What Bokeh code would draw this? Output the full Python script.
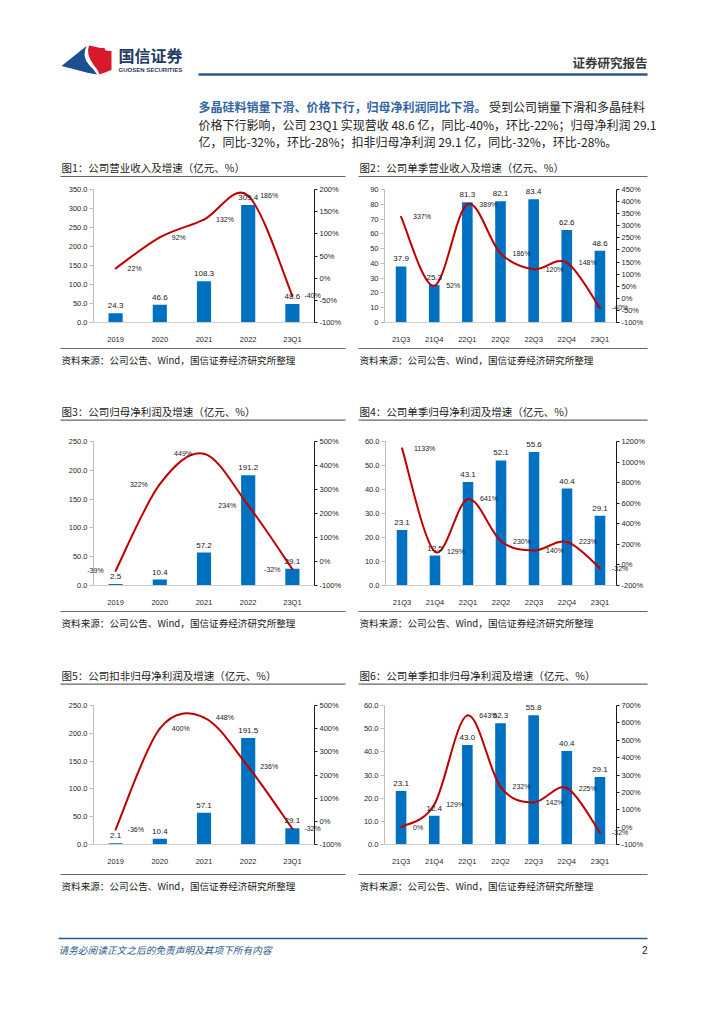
from bokeh.plotting import figure
from bokeh.models import Range1d, LinearAxis, FixedTicker, PrintfTickFormatter, ColumnDataSource, Spacer
from bokeh.layouts import column, row
from bokeh.core.properties import value
from bokeh.embed import file_html
from bokeh.resources import INLINE

CJK = "Noto Sans CJK SC"
NUM = "Liberation Sans"

# ---------------- data ----------------
years = ["2019", "2020", "2021", "2022", "23Q1"]
quarters = ["21Q3", "21Q4", "22Q1", "22Q2", "22Q3", "22Q4", "23Q1"]

rev_year = [24.3, 46.6, 108.3, 309.4, 48.6]
rev_year_yoy = [22, 92, 132, 186, -40]

rev_q = [37.9, 25.3, 81.3, 82.1, 83.4, 62.6, 48.6]
rev_q_yoy = [337, 52, 389, 186, 120, 148, -40]

np_year = [2.5, 10.4, 57.2, 191.2, 29.1]
np_year_yoy = [-39, 322, 449, 234, -32]

np_q = [23.1, 12.5, 43.1, 52.1, 55.6, 40.4, 29.1]
np_q_yoy = [1133, 129, 641, 230, 140, 223, -32]

dnp_year = [2.1, 10.4, 57.1, 191.5, 29.1]
dnp_year_yoy = [-36, 400, 448, 236, -32]

dnp_q = [23.1, 12.4, 43.0, 52.3, 55.8, 40.4, 29.1]
dnp_q_yoy = [0, 129, 643, 232, 142, 225, -32]

titles = [
    "图1：公司营业收入及增速（亿元、%）",
    "图2：公司单季营业收入及增速（亿元、%）",
    "图3：公司归母净利润及增速（亿元、%）",
    "图4：公司单季归母净利润及增速（亿元、%）",
    "图5：公司扣非归母净利润及增速（亿元、%）",
    "图6：公司单季扣非归母净利润及增速（亿元、%）",
]
source_text = "资料来源：公司公告、Wind，国信证券经济研究所整理"
para_blue = "多晶硅料销量下滑、价格下行，归母净利润同比下滑。"
para_l1 = "受到公司销量下滑和多晶硅料"
para_l2 = "价格下行影响，公司 23Q1 实现营收 48.6 亿，同比-40%，环比-22%；归母净利润 29.1"
para_l3 = "亿，同比-32%，环比-28%；扣非归母净利润 29.1 亿，同比-32%，环比-28%。"
footer_text = "请务必阅读正文之后的免责声明及其项下所有内容"

BAR = "#0070C0"
LINE = "#C00000"
STEEL = "#2b5a8c"
RULE = "#666666"


# ---------------- decoration strips (page pixel coords) ----------------
def decor(y0, h):
    p = figure(width=708, height=h, x_range=Range1d(8, 716), y_range=Range1d(y0 + h, y0),
               output_backend="svg", toolbar_location=None, min_border=0,
               x_axis_type=None, y_axis_type=None)
    p.outline_line_color = None
    p.background_fill_color = "white"
    p.border_fill_color = "white"
    return p


def txt(p, x, y, s, size, color="#1a1a1a", font=CJK, style="normal", align="left"):
    p.text(x=[x], y=[y], text=[s], text_font=value(font), text_font_size=value(f"{size}px"),
           text_color=color, text_font_style=value(style), text_align=value(align),
           text_baseline=value("middle"))


def hline(p, x0, x1, y, color=RULE, w=1.2):
    p.line(x=[x0, x1], y=[y, y], line_color=color, line_width=w)


def panel_titles(p, y_text, y_line, i0):
    txt(p, 69, y_text, titles[i0], 10.5)
    txt(p, 367, y_text, titles[i0 + 1], 10.5)
    hline(p, 68, 353, y_line)
    hline(p, 366, 655, y_line)


def panel_sources(p, y_line, y_text):
    hline(p, 68, 353, y_line)
    hline(p, 366, 655, y_line)
    txt(p, 69, y_text, source_text, 9.6)
    txt(p, 367, y_text, source_text, 9.6)


# strip A : header + paragraph + row-1 titles
sA = decor(8, 180)
sA.patch(x=[69, 94, 92.5, 92, 93.5, 97, 101, 104.5, 96], y=[73.5, 53.5, 58, 63, 68, 73, 77, 82, 80.5],
         fill_color="#1b4f8f", line_color=None)
sA.patch(x=[96.5, 108, 112, 113, 119, 119, 107, 105, 101.5, 98, 96, 95.5],
         y=[53, 55.5, 55.5, 58, 58.5, 77.5, 82, 77.5, 73, 67.5, 62.5, 57.5],
         fill_color="#d8192b", line_color=None)
txt(sA, 126, 62, "国信证券", 16, color="#243a66", style="bold")
txt(sA, 126, 77.5, "GUOSEN SECURITIES", 6, color="#243a66", font=NUM, style="bold")
txt(sA, 655, 69.5, "证券研究报告", 12.5, color="#3a3a3a", style="bold", align="right")
hline(sA, 206, 655, 82, color=STEEL, w=2.5)
txt(sA, 206, 114, para_blue, 12, color="#3465a4", style="bold")
txt(sA, 206 + 24 * 12.1, 114, para_l1, 12, color="#222222")
txt(sA, 206, 131.5, para_l2, 12, color="#222222")
txt(sA, 206, 149, para_l3, 12, color="#222222")
panel_titles(sA, 175, 184, 0)

# strip B
sB = decor(354, 78)
panel_sources(sB, 356, 367)
panel_titles(sB, 419, 427.7, 2)

# strip C
sC = decor(617, 78)
panel_sources(sC, 619, 630.5)
panel_titles(sC, 683, 691.7, 4)

# strip D
sD = decor(880, 136)
panel_sources(sD, 882, 893)
hline(sD, 66, 655, 946, color=STEEL, w=1.5)
txt(sD, 66, 957, footer_text, 9.7, color=STEEL, style="italic")
txt(sD, 655, 957, "2", 10, color="#1a1a1a", font=NUM, align="right")


# ---------------- charts ----------------
def bezier_source(vals):
    n = len(vals)
    P = [(float(i), float(v)) for i, v in enumerate(vals)]
    d = dict(x0=[], y0=[], x1=[], y1=[], cx0=[], cy0=[], cx1=[], cy1=[])
    for i in range(n - 1):
        pm = P[i - 1] if i > 0 else P[i]
        p0 = P[i]
        p1 = P[i + 1]
        p2 = P[i + 2] if i + 2 < n else P[i + 1]
        d["x0"].append(p0[0]); d["y0"].append(p0[1])
        d["x1"].append(p1[0]); d["y1"].append(p1[1])
        d["cx0"].append(p0[0] + (p1[0] - pm[0]) / 6); d["cy0"].append(p0[1] + (p1[1] - pm[1]) / 6)
        d["cx1"].append(p1[0] - (p2[0] - p0[0]) / 6); d["cy1"].append(p1[1] - (p2[1] - p0[1]) / 6)
    return ColumnDataSource(d)


def chart(cats, bars, yoy, lmax, lstep, lfmt, rmin, rmax, rstep,
          width, bl, fw, bt, fh, bb, side="right"):
    n = len(cats)
    p = figure(width=width, height=bt + fh + bb, x_range=Range1d(-0.5, n - 0.5),
               y_range=Range1d(0, lmax), output_backend="svg", toolbar_location=None,
               min_border_left=bl, min_border_right=width - bl - fw,
               min_border_top=bt, min_border_bottom=bb)
    p.xgrid.visible = False
    p.ygrid.visible = False
    p.outline_line_color = None
    p.background_fill_color = "white"
    p.border_fill_color = "white"

    xa = p.xaxis[0]
    xa.ticker = FixedTicker(ticks=list(range(n)))
    xa.major_label_overrides = {i: c for i, c in enumerate(cats)}
    xa.axis_line_color = "#d0d0d0"
    xa.major_tick_line_color = None
    xa.minor_tick_line_color = None
    xa.major_label_standoff = 6
    xa.major_label_text_font = NUM
    xa.major_label_text_font_size = "7.5px"
    xa.major_label_text_color = "#262626"

    ya = p.yaxis[0]
    ya.ticker = FixedTicker(ticks=[k * lstep for k in range(int(round(lmax / lstep)) + 1)])
    ya.formatter = PrintfTickFormatter(format=lfmt)
    ya.axis_line_color = "#bfbfbf"
    ya.major_tick_line_color = "#bfbfbf"
    ya.major_tick_out = 4
    ya.major_tick_in = 0
    ya.minor_tick_line_color = None
    ya.major_label_standoff = 2
    ya.major_label_text_font = NUM
    ya.major_label_text_font_size = "7.5px"
    ya.major_label_text_color = "#262626"

    p.extra_y_ranges = {"pct": Range1d(rmin, rmax)}
    ra = LinearAxis(y_range_name="pct", ticker=FixedTicker(ticks=list(range(rmin, rmax + 1, rstep))),
                    formatter=PrintfTickFormatter(format="%d%%"))
    ra.axis_line_color = "#1a1a1a"
    ra.major_tick_line_color = "#1a1a1a"
    ra.major_tick_out = 3
    ra.major_tick_in = 0
    ra.minor_tick_line_color = None
    ra.major_label_standoff = 2
    ra.major_label_text_font = NUM
    ra.major_label_text_font_size = "7.5px"
    ra.major_label_text_color = "#262626"
    p.add_layout(ra, "right")

    src = ColumnDataSource(dict(x=list(range(n)), bar=bars, yoy=yoy,
                                bar_t=[f"{v:.1f}" for v in bars],
                                yoy_t=[f"{v}%" for v in yoy]))
    p.vbar(x="x", top="bar", width=0.32, source=src, fill_color=BAR, line_color=None)
    p.bezier(x0="x0", y0="y0", x1="x1", y1="y1", cx0="cx0", cy0="cy0", cx1="cx1", cy1="cy1",
             source=bezier_source(yoy), line_color=LINE, line_width=2, line_cap="round",
             y_range_name="pct")

    p.text(x="x", y="bar", text="bar_t", source=src, y_offset=-5, level="overlay",
           text_align=value("center"), text_baseline=value("bottom"),
           text_font=value(NUM), text_font_size=value("8px"), text_color="#1a1a1a")
    off = 12 if side == "right" else -12
    p.text(x="x", y="yoy", text="yoy_t", source=src, y_range_name="pct", x_offset=off,
           level="overlay",
           text_align=value("left" if side == "right" else "right"),
           text_baseline=value("middle"), text_font=value(NUM),
           text_font_size=value("7px"), text_color="#1a1a1a")
    return p


c1 = chart(years, rev_year, rev_year_yoy, 350, 50, "%.1f", -100, 200, 50,
           287, 35, 221, 9, 134, 23)
c2 = chart(quarters, rev_q, rev_q_yoy, 90, 10, "%d", -100, 450, 50,
           290, 26, 232, 7, 137, 22)
c3 = chart(years, np_year, np_year_yoy, 250, 50, "%.1f", -100, 500, 100,
           287, 35, 221, 17, 145, 23, side="left")
c4 = chart(quarters, np_q, np_q_yoy, 60, 10, "%.1f", -200, 1200, 200,
           290, 27, 231, 10, 151, 24)
c5 = chart(years, dnp_year, dnp_year_yoy, 250, 50, "%.1f", -100, 500, 100,
           287, 35, 221, 12, 145, 28)
c6 = chart(quarters, dnp_q, dnp_q_yoy, 60, 10, "%.1f", -100, 700, 100,
           290, 26, 232, 18, 140, 27)


def chart_row(a, b, h):
    return row(Spacer(width=58, height=h), a, Spacer(width=13, height=h), b,
               Spacer(width=60, height=h), spacing=0)


page = column(sA, chart_row(c1, c2, 166), sB, chart_row(c3, c4, 185), sC,
              chart_row(c5, c6, 185), sD, spacing=0)

open("out.html", "w").write(file_html(page, INLINE))
